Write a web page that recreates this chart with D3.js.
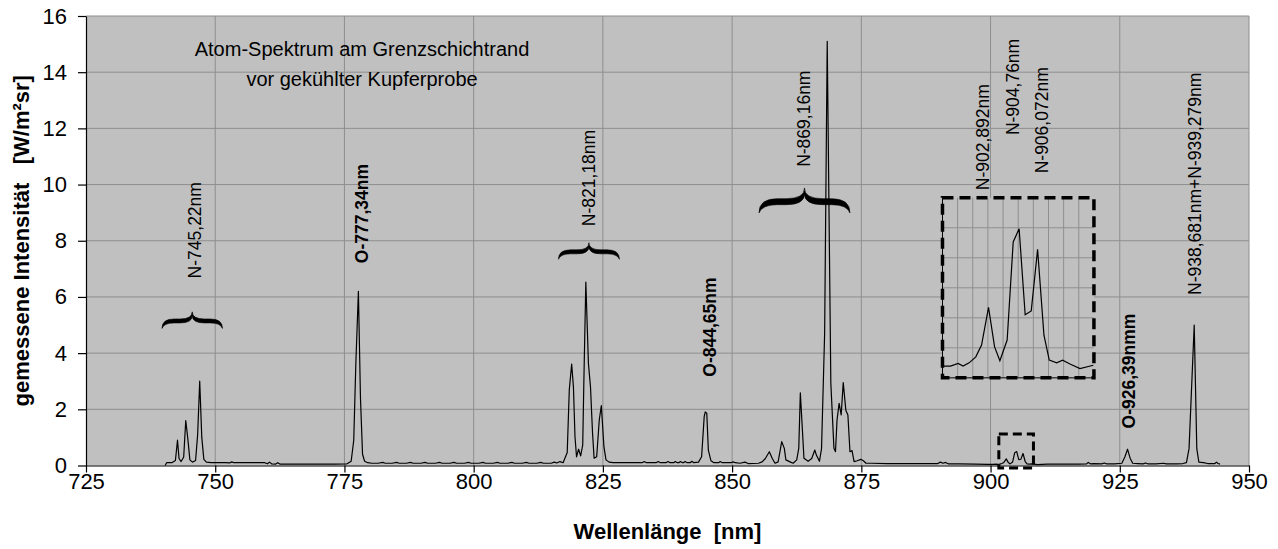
<!DOCTYPE html>
<html>
<head>
<meta charset="utf-8">
<script src="https://cdn.jsdelivr.net/npm/d3@7"></script>
<style>
  html, body { margin: 0; padding: 0; background: #ffffff; }
  svg { display: block; font-family: "Liberation Sans", Arial, sans-serif; }
</style>
</head>
<body>
<svg id="chart" width="1278" height="549"></svg>
<script>
// ---- Spectrum samples: wavelength [nm] and measured intensity [W/m²sr] ----
const wavelengthNm = [
  740.3, 740.6, 741.6, 742.3, 742.7, 743.0, 743.4, 743.9, 744.3, 744.7, 745.1, 745.6, 746.2, 746.6, 747.0, 747.4, 747.8, 748.3, 749.2,
  750.4, 752.0, 752.8, 753.2, 753.6, 756.0, 759.6, 760.1, 760.5, 760.9, 761.7, 762.1, 762.5, 764.0, 767.0, 770.0, 773.0, 775.5,
  776.3, 776.8, 777.2, 777.7, 778.1, 778.5, 778.9, 779.5, 780.3,
  781.5, 782.4, 782.9, 784.2, 785.1, 785.6, 787.0, 787.8, 788.3, 789.8, 790.6, 791.1, 792.6, 793.4, 793.9, 795.4, 796.2, 796.7,
  798.2, 799.0, 799.5, 801.0, 801.8, 802.3, 803.8, 804.6, 805.1, 806.6, 807.4, 807.9, 809.4, 810.2, 810.7, 812.2, 813.0, 813.5,
  815.0, 815.6, 816.1,
  816.7, 817.3, 818.1, 818.5, 818.96, 819.3, 819.6, 819.9, 820.3, 820.7, 821.1, 821.3, 821.7, 822.2, 822.6, 823.0, 823.3, 823.8,
  824.3, 824.7, 825.2, 825.6, 826.2, 827.0, 828.5,
  830.0, 832.6, 833.0, 833.4, 835.3, 835.7, 836.1, 837.2, 837.6, 838.0, 838.7, 839.0, 839.4, 839.7, 840.0, 840.4, 840.6, 840.9,
  841.3, 841.9, 842.2, 842.6, 843.5, 844.1, 844.6, 844.8, 845.1, 845.4, 845.9, 846.5, 847.4, 847.7, 848.1, 849.8, 850.2, 850.6,
  851.5, 852.5, 853.1, 855.1, 855.8, 856.4, 857.2, 857.8, 858.3, 858.9, 859.6, 860.1, 860.4, 861.2, 861.8, 862.5, 862.9, 863.2,
  863.6, 863.9, 864.7, 865.4, 866.0, 866.3, 866.9, 867.3, 867.9, 868.4, 869.1, 869.7, 870.0, 870.3, 870.7, 871.1, 871.5, 872.0,
  872.4, 872.8, 873.2, 873.6, 874.2, 874.9, 875.4, 875.9,
  877.0, 880.0, 884.0, 888.0, 889.8, 890.3, 890.8, 891.3, 891.8, 894.0, 897.0, 899.5,
  900.0, 900.53, 901.03, 901.36, 901.76, 902.2, 902.58, 903.04, 903.44, 903.79, 904.27, 904.67, 905.06, 905.46, 905.86, 906.28,
  906.7, 907.05, 907.54, 907.93, 908.42, 909.08, 909.96,
  911.0, 914.0, 917.0, 918.6, 918.9, 919.3, 920.0, 921.5, 922.0, 922.4, 924.0, 925.4, 926.0, 926.5, 927.0, 927.5, 928.5, 929.5,
  930.0, 930.4, 932.0, 933.5, 934.0, 936.0, 937.2, 937.9, 938.4, 939.4, 939.9, 940.3, 941.2, 942.0, 943.4, 943.7, 944.0, 944.4
];
const intensity = [
  0.00, 0.10, 0.10, 0.18, 0.90, 0.25, 0.14, 0.30, 1.60, 0.95, 0.20, 0.12, 0.18, 1.10, 3.00, 1.00, 0.22, 0.12, 0.10,
  0.10, 0.10, 0.09, 0.13, 0.10, 0.10, 0.10, 0.06, 0.12, 0.06, 0.05, 0.10, 0.05, 0.05, 0.05, 0.05, 0.05, 0.06,
  0.15, 0.90, 3.60, 6.20, 2.40, 0.40, 0.15, 0.10, 0.08,
  0.08, 0.11, 0.08, 0.08, 0.11, 0.08, 0.08, 0.11, 0.08, 0.08, 0.11, 0.08, 0.08, 0.11, 0.08, 0.08, 0.11, 0.08,
  0.08, 0.11, 0.08, 0.08, 0.11, 0.08, 0.08, 0.11, 0.08, 0.08, 0.11, 0.08, 0.08, 0.11, 0.08, 0.08, 0.11, 0.08,
  0.08, 0.12, 0.09,
  0.14, 0.10, 0.46, 2.69, 3.61, 2.80, 1.03, 0.31, 0.58, 0.34, 0.73, 2.80, 6.53, 3.64, 2.80, 1.15, 0.26, 0.31,
  1.62, 2.13, 0.67, 0.20, 0.12, 0.10, 0.10,
  0.10, 0.10, 0.14, 0.10, 0.10, 0.14, 0.10, 0.10, 0.14, 0.10, 0.10, 0.14, 0.10, 0.10, 0.14, 0.10, 0.10, 0.14,
  0.10, 0.10, 0.15, 0.10, 0.12, 0.31, 1.74, 1.91, 1.86, 0.55, 0.17, 0.10, 0.10, 0.14, 0.10, 0.10, 0.13, 0.10,
  0.08, 0.12, 0.07, 0.08, 0.13, 0.24, 0.49, 0.24, 0.08, 0.13, 0.85, 0.61, 0.20, 0.13, 0.08, 0.20, 0.62, 2.59,
  1.26, 0.26, 0.15, 0.25, 0.55, 0.37, 0.15, 0.60, 4.70, 15.10, 2.93, 0.61, 0.49, 1.62, 2.21, 1.80, 2.95, 1.97,
  1.80, 0.49, 0.53, 0.14, 0.17, 0.22, 0.17, 0.08,
  0.08, 0.07, 0.07, 0.07, 0.07, 0.12, 0.08, 0.11, 0.06, 0.06, 0.05, 0.04,
  0.039, 0.039, 0.048, 0.039, 0.050, 0.070, 0.109, 0.235, 0.103, 0.057, 0.126, 0.453, 0.497, 0.210, 0.223, 0.428,
  0.142, 0.059, 0.050, 0.059, 0.046, 0.031, 0.042,
  0.05, 0.05, 0.05, 0.06, 0.11, 0.06, 0.07, 0.06, 0.09, 0.06, 0.06, 0.08, 0.31, 0.58, 0.26, 0.08, 0.07, 0.06,
  0.09, 0.06, 0.06, 0.08, 0.06, 0.06, 0.07, 0.10, 0.60, 5.00, 0.60, 0.12, 0.10, 0.07, 0.07, 0.12, 0.07, 0.05
];

// ---- Axis ticks ----
const xTicks = [725, 750, 775, 800, 825, 850, 875, 900, 925, 950];
const yTicks = [0, 2, 4, 6, 8, 10, 12, 14, 16];

// ---- Line identifications: text, wavelength of the label, intensity where the text begins ----
const lineLabelText  = ["N-745,22nm", "O-777,34nm", "N-821,18nm", "O-844,65nm", "N-869,16nm",
                        "N-902,892nm", "N-904,76nm", "N-906,072nm", "O-926,39nmm", "N-938,681nm+N-939,279nm"];
const lineLabelNm    = [746.1, 778.3, 822.2, 845.7, 863.9, 898.5, 904.3, 909.9, 926.8, 939.5];
const lineLabelLevel = [6.66, 7.20, 8.52, 3.16, 10.63, 9.80, 11.76, 10.40, 1.32, 6.07];

// ---- Curly braces grouping line multiplets: span [nm], tip and end level [W/m²sr] ----
const braceFromNm = [739.7, 816.4, 855.2];
const braceToNm   = [751.4, 828.2, 872.8];
const braceTip    = [5.47, 7.93, 9.88];
const braceEnd    = [4.88, 7.34, 8.99];

// ---- Magnified window around the weak N lines near 904 nm ----
const zoomNm = [900, 910];
const zoomIntensity = [0, 0.6];
const zoomMarkNm = [901.6, 908.3];
const zoomMarkIntensity = [-0.09, 1.12];

const titleLines = ["Atom-Spektrum am Grenzschichtrand", "vor gekühlter Kupferprobe"];

// ---------------------------------------------------------------------------
const svg = d3.select("#chart");
const spectrum = wavelengthNm.map((w, i) => ({ w, v: intensity[i] }));

const plotLeft = 86, plotRight = 1249, plotTop = 16, plotBottom = 465.5;
const x = d3.scaleLinear().domain([725, 950]).range([plotLeft, plotRight]);
const y = d3.scaleLinear().domain([0, 16]).range([plotBottom, plotTop]);

const gridColor = "#8e8e8e";
const plotFill = "#c0c0c0";

// plot area
svg.append("rect")
  .attr("x", plotLeft).attr("y", plotTop)
  .attr("width", plotRight - plotLeft).attr("height", plotBottom - plotTop)
  .attr("fill", plotFill);

// gridlines
svg.append("g").selectAll("line").data(yTicks.filter(d => d > 0)).join("line")
  .attr("x1", plotLeft).attr("x2", plotRight)
  .attr("y1", d => y(d)).attr("y2", d => y(d))
  .attr("stroke", gridColor).attr("stroke-width", 1);
svg.append("g").selectAll("line").data(xTicks.filter(d => d > 725)).join("line")
  .attr("x1", d => x(d)).attr("x2", d => x(d))
  .attr("y1", plotTop).attr("y2", plotBottom)
  .attr("stroke", gridColor).attr("stroke-width", 1);

// axes
const yAxis = svg.append("g")
  .attr("transform", `translate(${plotLeft},0)`)
  .call(d3.axisLeft(y).tickValues(yTicks).tickSize(8).tickPadding(11).tickSizeOuter(0));
const xAxis = svg.append("g")
  .attr("transform", `translate(0,${plotBottom})`)
  .call(d3.axisBottom(x).tickValues(xTicks).tickSize(7).tickPadding(1).tickSizeOuter(0));
[yAxis, xAxis].forEach(g => {
  g.select(".domain").attr("stroke", "#000").attr("stroke-width", 1.2);
  g.selectAll(".tick line").attr("stroke", "#000").attr("stroke-width", 1.2);
  g.selectAll(".tick text").attr("fill", "#000")
    .style("font-family", '"Liberation Sans", Arial, sans-serif').style("font-size", "22px");
});

// spectrum trace
const line = d3.line().x(d => x(d.w)).y(d => y(d.v));
svg.append("path").datum(spectrum)
  .attr("d", line).attr("fill", "none")
  .attr("stroke", "#000").attr("stroke-width", 1.2).attr("stroke-linejoin", "round");

// chart title
svg.append("text")
  .attr("text-anchor", "middle").style("font-size", "20px").attr("fill", "#000")
  .selectAll("tspan").data(titleLines).join("tspan")
  .attr("x", 362).attr("y", (d, i) => 56 + i * 30).text(d => d);

// axis titles
svg.append("text")
  .attr("transform", `translate(29,${(plotTop + plotBottom) / 2}) rotate(-90)`)
  .attr("text-anchor", "middle").style("font-size", "22px").style("font-weight", "bold")
  .style("white-space", "pre").attr("fill", "#000")
  .text("gemessene Intensität   [W/m²sr]");
svg.append("text")
  .attr("x", (plotLeft + plotRight) / 2).attr("y", 539)
  .attr("text-anchor", "middle").style("font-size", "22px").style("font-weight", "bold")
  .style("white-space", "pre").attr("fill", "#000")
  .text("Wellenlänge  [nm]");

// line identification labels (oxygen lines in bold)
svg.append("g").selectAll("text").data(lineLabelText).join("text")
  .attr("transform", (d, i) => `translate(${x(lineLabelNm[i])},${y(lineLabelLevel[i])}) rotate(-90)`)
  .attr("dy", "0.36em")
  .attr("text-anchor", "start")
  .style("font-size", "17.5px")
  .style("font-weight", d => d.startsWith("O-") ? "bold" : "normal")
  .attr("fill", "#000")
  .text(d => d);

// curly braces
function bracePath(x0, x1, yt, yb) {
  const xc = (x0 + x1) / 2, h = yb - yt;
  const t = Math.max(3.6, h * 0.24);
  const r = Math.min(h * 0.8, (x1 - x0) * 0.2);
  const ym = yt + h * 0.55, a = ym - t / 2, b = ym + t / 2;
  return `M${x0},${yb} Q${x0},${a} ${x0 + r},${a} L${xc - r},${a} Q${xc},${a} ${xc},${yt} ` +
         `Q${xc},${a} ${xc + r},${a} L${x1 - r},${a} Q${x1},${a} ${x1},${yb} ` +
         `Q${x1 - t * 0.5},${b} ${x1 - r},${b} L${xc + r},${b} Q${xc},${b} ${xc},${yt + t} ` +
         `Q${xc},${b} ${xc - r},${b} L${x0 + r},${b} Q${x0 + t * 0.5},${b} ${x0},${yb} Z`;
}
svg.append("g").selectAll("path").data(braceFromNm).join("path")
  .attr("d", (d, i) => bracePath(x(braceFromNm[i]), x(braceToNm[i]), y(braceTip[i]), y(braceEnd[i])))
  .attr("fill", "#000").attr("stroke", "#000").attr("stroke-width", 0.6);

// marker around the weak lines in the main plot
svg.append("rect")
  .attr("x", x(zoomMarkNm[0])).attr("y", y(zoomMarkIntensity[1]))
  .attr("width", x(zoomMarkNm[1]) - x(zoomMarkNm[0]))
  .attr("height", y(zoomMarkIntensity[0]) - y(zoomMarkIntensity[1]))
  .attr("fill", "none").attr("stroke", "#000").attr("stroke-width", 3).attr("stroke-dasharray", "9,5");

// magnified inset
const inset = { left: x(890.7), right: x(920.0), top: y(9.53), bottom: y(3.12) };
const xi = d3.scaleLinear().domain(zoomNm).range([inset.left, inset.right]);
const yi = d3.scaleLinear().domain(zoomIntensity).range([inset.bottom, inset.top]);
const ig = svg.append("g");
ig.append("rect")
  .attr("x", inset.left).attr("y", inset.top)
  .attr("width", inset.right - inset.left).attr("height", inset.bottom - inset.top)
  .attr("fill", plotFill);
ig.selectAll("line.v").data(d3.range(zoomNm[0] + 1, zoomNm[1])).join("line").attr("class", "v")
  .attr("x1", d => xi(d)).attr("x2", d => xi(d)).attr("y1", inset.top).attr("y2", inset.bottom)
  .attr("stroke", gridColor);
ig.selectAll("line.h").data([0.1, 0.2, 0.3, 0.4, 0.5]).join("line").attr("class", "h")
  .attr("x1", inset.left).attr("x2", inset.right).attr("y1", d => yi(d)).attr("y2", d => yi(d))
  .attr("stroke", gridColor);
ig.append("path")
  .attr("d", `M${inset.left},${inset.top}V${inset.bottom}H${inset.right}`)
  .attr("fill", "none").attr("stroke", "#000").attr("stroke-width", 1);
ig.append("path")
  .datum(spectrum.filter(d => d.w >= zoomNm[0] && d.w <= zoomNm[1]))
  .attr("d", d3.line().x(d => xi(d.w)).y(d => yi(d.v)))
  .attr("fill", "none").attr("stroke", "#000").attr("stroke-width", 1.2);
ig.append("rect")
  .attr("x", inset.left).attr("y", inset.top)
  .attr("width", inset.right - inset.left).attr("height", inset.bottom - inset.top)
  .attr("fill", "none").attr("stroke", "#000").attr("stroke-width", 3.5).attr("stroke-dasharray", "11,6");
</script>
</body>
</html>
